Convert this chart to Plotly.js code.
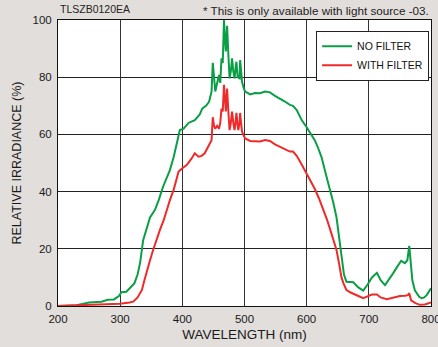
<!DOCTYPE html>
<html>
<head>
<meta charset="utf-8">
<script src="https://cdn.plot.ly/plotly-3.0.1.min.js"></script>
<style>html,body{margin:0;padding:0;background:#e2dedb;}#chart{width:438px;height:347px;}</style>
</head>
<body>
<div id="chart"></div>
<script>
const greenWl = [200,230,250,270,280,290,298,302,310,318,323,328,332,337,343,348,356,362,369,375,380,386,391,396,402,410,420,428,432,438,443,447,449,451,453,456,459,461,463,465,467,469,470,471,472,474,476,478,480,482,484,486,487,489,492,493,494,496,499,501,505,509,517,525,533,541,549,557,565,573,578,584,592,600,606,613,618,624,631,638,643,648,652,656,660,664,670,675,683,691,698,705,713,719,726,732,739,745,752,758,762,765,768,770,774,777,781,785,789,793,796,800];
const greenVal = [0,0.3,1.2,1.5,2.2,2.3,3.5,4.8,5,7,8,11,15,23,27,31,33.6,37,41.7,45,47.5,52,57,61.5,62,64,65,67,69,70,71.4,75,85,78,75,78,80.8,78,86.6,85,100,92,89,93,98,88,79.6,82,86.6,82,79.6,84,85.4,80,79.6,86,84,78.4,76,75,74.5,74,74.5,74.4,75,74.7,73.5,72.6,71.5,70.3,70,68.5,65,62.5,60.5,58,55.5,52,46,40.6,36,31,24,17,11,8.5,8.3,8.3,6.5,5.4,7.5,10,11.6,9,7.3,9,11.4,13.5,15.8,15,16,21,15,9,5.5,4.4,3.2,2.7,3,3.8,5,6.2];
const redWl = [200,250,280,300,315,321,328,335,339,343,348,353,358,364,370,375,380,386,390,394,399,407,415,420,426,431,436,440,444,447,449,451,453,456,459,461,463,465,467,469,470,471,472,474,476,478,480,482,484,486,487,489,490,492,493,494,496,499,501,509,517,525,533,541,549,557,565,573,578,584,592,600,606,613,620,627,633,638,643,648,652,656,659,664,670,675,683,691,698,705,713,719,729,740,750,758,763,765,768,775,782,790,799,800];
const redVal = [0,0.3,0.5,0.8,1.2,1.5,3,5.6,9,12.6,16,19.6,23,26.6,30,33.6,37,40.6,44,47,48,49.3,51.6,53.4,52.2,52.5,53.4,55,56.3,58,66,63,62,63,62,64,69,68,77.3,71,68,72,76,68,61.5,64,68,64,61.5,65,67.5,63,61.5,64,67.5,65,61,59.5,58.6,57.7,57.5,57.5,58,57.7,56.5,55.7,55,54,54,52.5,49.5,46.4,44,41,37.5,33.6,30,26.6,23,19.6,15,10,8,5.6,4.8,4.4,3.5,2.7,3.3,4,4,3,2.4,3,3.5,3.6,3.8,4.5,2,1,0.4,0.5,1,1.2];
const xTicks = [200,300,400,500,600,700,800];
const yTicks = [0,20,40,60,80,100];
const seriesNames = ['NO FILTER','WITH FILTER'];

const font = 'Liberation Sans, Arial, Helvetica, sans-serif';
const traces = [
  {x: greenWl, y: greenVal, name: seriesNames[0], type: 'scatter', mode: 'lines',
   line: {color: '#0a9e46', width: 2}},
  {x: redWl, y: redVal, name: seriesNames[1], type: 'scatter', mode: 'lines',
   line: {color: '#ee2a2a', width: 2}}
];
const layout = {
  width: 438, height: 347,
  margin: {l: 58, r: 7, t: 20, b: 41, pad: 0},
  paper_bgcolor: '#e2dedb',
  plot_bgcolor: '#ffffff',
  font: {family: font, color: '#1a1a1a', size: 11},
  showlegend: true,
  legend: {x: 0.692, y: 0.962, xanchor: 'left', yanchor: 'top',
    bgcolor: '#ffffff', bordercolor: '#222', borderwidth: 1,
    font: {family: font, size: 10.5, color: '#111'},
    tracegroupgap: 0, itemwidth: 30},
  xaxis: {range: [200, 800], tickvals: xTicks, ticktext: xTicks.map(String),
    showgrid: true, gridcolor: '#333', gridwidth: 1, zeroline: false,
    showline: true, linecolor: '#111', linewidth: 1, mirror: true,
    ticks: '', ticklen: 0, ticklabelstandoff: 2, ticklabeloverflow: 'allow',
    automargin: false,
    tickfont: {family: font, size: 11.5, color: '#1a1a1a'},
    title: {text: 'WAVELENGTH (nm)', font: {family: font, size: 13.5, color: '#1a1a1a'}, standoff: 5}},
  yaxis: {range: [0, 100], tickvals: yTicks, ticktext: yTicks.map(String),
    showgrid: true, gridcolor: '#222', gridwidth: 1, zeroline: false,
    showline: true, linecolor: '#111', linewidth: 1, mirror: true,
    ticks: '', ticklen: 0, ticklabelstandoff: 3,
    tickfont: {family: font, size: 11.5, color: '#1a1a1a'},
    title: {text: 'RELATIVE IRRADIANCE (%)', font: {family: font, size: 12.5, color: '#1a1a1a'}, standoff: 8}},
  annotations: [
    {text: 'TLSZB0120EA', xref: 'paper', yref: 'paper', x: 0, y: 1.037,
     xanchor: 'left', yanchor: 'middle', showarrow: false,
     font: {family: font, size: 10.5, color: '#222'}},
    {text: '* This is only available with light source -03.', xref: 'paper', yref: 'paper', x: 1.0, y: 1.032,
     xanchor: 'right', yanchor: 'middle', showarrow: false,
     font: {family: font, size: 11.7, color: '#222'}}
  ]
};
Plotly.newPlot('chart', traces, layout, {displayModeBar: false, staticPlot: true});
</script>
</body>
</html>
